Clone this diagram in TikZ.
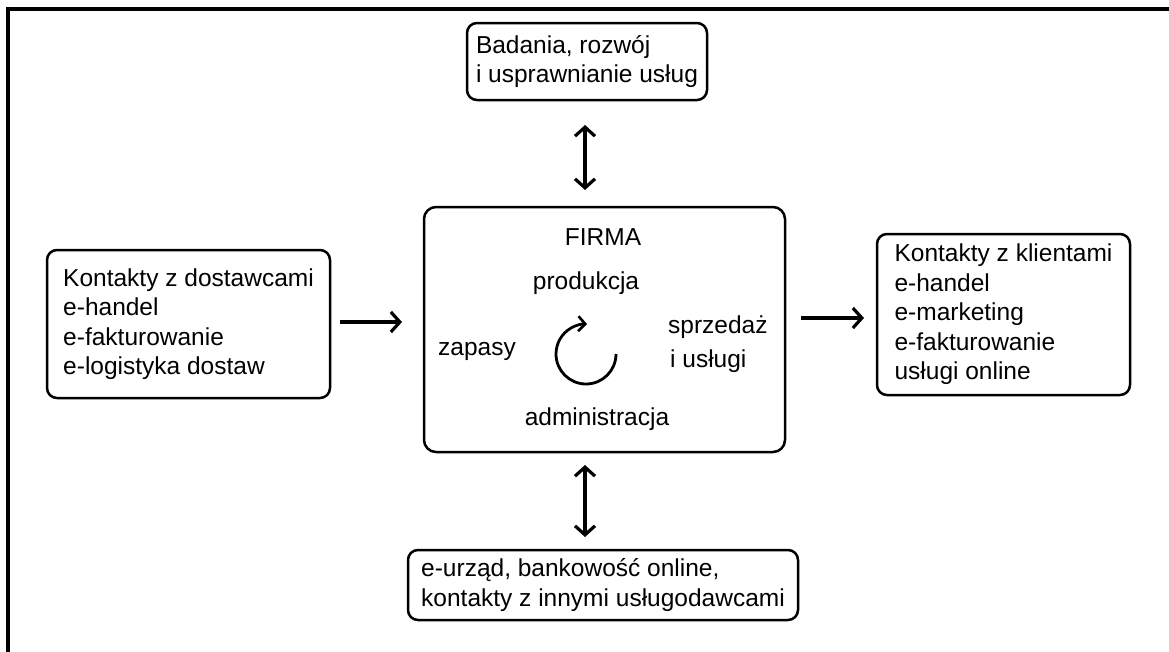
\documentclass[tikz,border=0pt]{standalone}
\usepackage{fontspec}
\setmainfont{Liberation Sans}
\usetikzlibrary{arrows.meta}
\begin{document}
\begin{tikzpicture}[x=1pt,y=-1pt,
  box/.style={draw, line width=2.5pt, rounded corners=10pt, align=left,
    inner sep=0pt, font=\fontsize{24.5}{29.5}\selectfont},
  lbl/.style={inner sep=0pt, align=left, font=\fontsize{24.5}{29.5}\selectfont},
  barb/.style={Straight Barb[length=9pt,width=20pt,line width=3.2pt]},
  link/.style={line width=3.4pt, -{Straight Barb[length=9pt,width=20pt,line width=3.2pt]}},
  biglink/.style={line width=3.4pt, {Straight Barb[length=9pt,width=20pt,line width=3.2pt]}-{Straight Barb[length=9pt,width=20pt,line width=3.2pt]}}]
\useasboundingbox (0,0) rectangle (1169,651);
\fill[white] (0,0) rectangle (1169,651);
% outer frame
\begin{scope}
  \clip (0,0) rectangle (1169,651);
  \draw[line width=3.2pt] (8,670) -- (8,9) -- (1190,9);
\end{scope}
% boxes
\node[box, minimum width=240, minimum height=77] (rd) at (587,61.5)
  {Badania, rozwój\\i usprawnianie usług};
\node[box, minimum width=283, minimum height=148] (sup) at (188.5,324)
  {Kontakty z dostawcami\\e-handel\\e-fakturowanie\\e-logistyka dostaw};
\node[box, minimum width=253, minimum height=161] (cli) at (1003.5,314.5)
  {Kontakty z klientami\\e-handel\\e-marketing\\e-fakturowanie\\usługi online};
\node[box, minimum width=390, minimum height=70] (gov) at (603,585)
  {e-urząd, bankowość online,\\kontakty z innymi usługodawcami};
\node[draw, line width=2.5pt, rounded corners=12pt, minimum width=361, minimum height=245] (firm) at (604.5,329.5) {};
% labels inside the company box
\node[lbl] (firma) at (603,237) {FIRMA};
\node[lbl] (prod) at (586,283) {produkcja};
\node[lbl] (zap) at (477,351) {zapasy};
\node[lbl, anchor=west] (sprz) at (668,327) {sprzedaż};
\node[lbl, anchor=west] (usl) at (670,361) {i usługi};
\node[lbl] (adm) at (597,419) {administracja};
% cycle arrow
\coordinate (cyc) at (586,354);
\draw[line width=2.8pt, -{Straight Barb[length=7pt,width=15pt,line width=2.6pt]}]
  ([xshift=30pt]cyc) arc[start angle=0, end angle=272, radius=30];
% connectors
\coordinate (a1) at (340,322);
\coordinate (a2) at (402,322);
\draw[link] (a1) -- (a2);
\coordinate (b1) at (801,318);
\coordinate (b2) at (864,318);
\draw[link] (b1) -- (b2);
\coordinate (c1) at (585,125);
\coordinate (c2) at (585,190);
\draw[biglink] (c1) -- (c2);
\coordinate (d1) at (585,465);
\coordinate (d2) at (585,537);
\draw[biglink] (d1) -- (d2);
\end{tikzpicture}
\end{document}
